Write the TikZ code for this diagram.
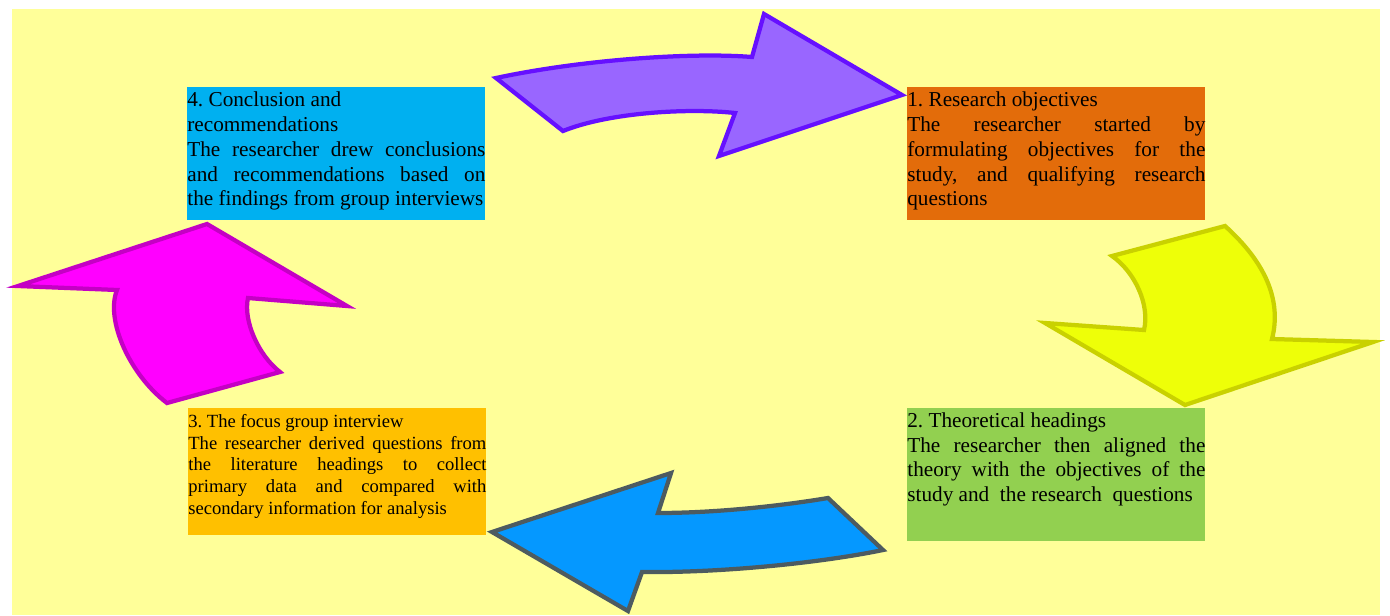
\documentclass[tikz,border=0pt]{standalone}
\usepackage{fontspec}
\setmainfont{Liberation Serif}
\tolerance=10000
\frenchspacing

\definecolor{bgyellow}{HTML}{FFFF99}
\definecolor{objcol}{HTML}{E36C0A}
\definecolor{theocol}{HTML}{92D050}
\definecolor{focuscol}{HTML}{FFC000}
\definecolor{conclcol}{HTML}{00B0F0}
\definecolor{violetfill}{HTML}{9966FF}
\definecolor{violetline}{HTML}{6610FF}
\definecolor{lemonfill}{HTML}{EEFF08}
\definecolor{lemonline}{HTML}{C9D100}
\definecolor{skyfill}{HTML}{0598FF}
\definecolor{skyline}{HTML}{4D5B60}
\definecolor{pinkfill}{HTML}{FF00FF}
\definecolor{pinkline}{HTML}{C400C4}

\begin{document}
\begin{tikzpicture}[x=0.565pt,y=-0.565pt,
  stagebox/.style={anchor=north west,inner sep=0pt,text width=168.4pt,align=justify,
    font=\fontsize{12}{14}\selectfont},
  loopflow/.style={line width=2.4pt,line join=miter}]
  \useasboundingbox (0,0) rectangle (1390,615);
  \fill[bgyellow] (12,9) rectangle (1380,615);

  % arrows between the stages
  \draw[loopflow,draw=violetline,fill=violetfill] (496,78) .. controls (580,60) and (690,52) .. (752,57)
    -- (764,14) -- (902,95) -- (719,156) -- (735,113)
    .. controls (690,108) and (610,112) .. (563,131) -- cycle;
  \draw[loopflow,draw=lemonline,fill=lemonfill] (1112,256) -- (1225,226)
    .. controls (1265,262) and (1282,300) .. (1272,339)
    -- (1373,342) -- (1185,405) -- (1045,323) -- (1144,330)
    .. controls (1150,305) and (1135,272) .. cycle;
  \draw[loopflow,draw=skyline,fill=skyfill] (492,532) -- (671,473) -- (658,513)
    .. controls (715,513) and (780,506) .. (828,498)
    -- (883,550) .. controls (820,563) and (720,573) .. (642,572)
    -- (628,611) -- cycle;
  \draw[loopflow,draw=pinkline,fill=pinkfill] (207,224) -- (347,306) -- (248,298)
    .. controls (243,320) and (258,355) .. (280,372)
    -- (167,403) .. controls (130,375) and (105,320) .. (117,290)
    -- (18,286) -- cycle;

  \node[stagebox,fill=conclcol,text height=11pt,text depth=64.15pt] (concl) at (187,87)
    {4. Conclusion and\newline recommendations\par
     The researcher drew conclusions\linebreak and recommendations based on\linebreak
     the findings from group interviews};
  \node[stagebox,fill=objcol,text height=11pt,text depth=64.15pt] (objectives) at (907,87)
    {1. Research objectives\par
     The researcher started by\linebreak formulating objectives for the\linebreak
     study, and qualifying research\linebreak questions};
  \node[stagebox,fill=focuscol,font=\fontsize{10.5}{12.3}\selectfont,
    text height=10.7pt,text depth=61.06pt] (focus) at (188,408)
    {3. The focus group interview\par
     The researcher derived questions from\linebreak the literature headings to collect\linebreak
     primary data and compared with\linebreak secondary information for analysis};
  \node[stagebox,fill=theocol,text height=10.7pt,text depth=64.45pt] (theory) at (907,408)
    {2. Theoretical headings\par
     The researcher then aligned the\linebreak theory with the objectives of the\linebreak
     study and\ \ the research\ \ questions};
\end{tikzpicture}
\end{document}
